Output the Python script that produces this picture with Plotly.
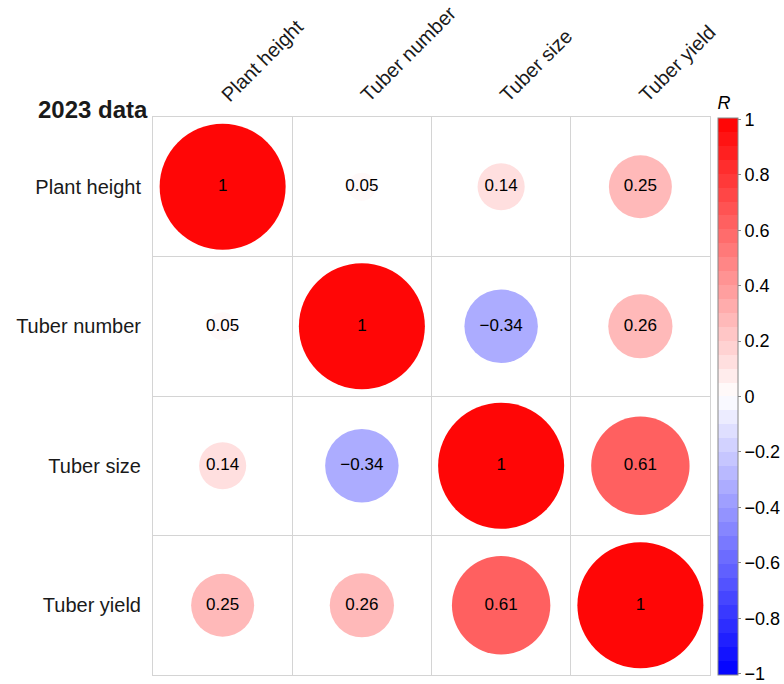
import numpy as np
import plotly.graph_objects as go

# Traits and their pairwise Pearson correlations (2023 season)
traits = ["Plant height", "Tuber number", "Tuber size", "Tuber yield"]
corr = [
    [1.00, 0.05, 0.14, 0.25],
    [0.05, 1.00, -0.34, 0.26],
    [0.14, -0.34, 1.00, 0.61],
    [0.25, 0.26, 0.61, 1.00],
]
cbar_ticks = [1, 0.8, 0.6, 0.4, 0.2, 0, -0.2, -0.4, -0.6, -0.8, -1]
panel_title = "2023 data"

FONT = "Liberation Sans, Arial, sans-serif"
GRID = "#d4d4d4"
MAX_DIAM = 126  # circle diameter (px) for |r| = 1
N_STEPS = 40    # discrete colour bands across [-1, 1]
PLOT_H = 684 - 117 - 9


def minus(s):
    return s.replace("-", "\u2212")


def fmt_cell(v):
    return "1" if v == 1 else minus("%.2f" % v)


def band_colour(v):
    # blue -> white -> red
    if v >= 0:
        c = int(round(255 * (1 - v)))
        return f"rgb(255,{c},{c})"
    c = int(round(255 * (1 + v)))
    return f"rgb({c},{c},255)"


# stepped colour scale
edges = np.linspace(0, 1, N_STEPS + 1)
colorscale = []
for i in range(N_STEPS):
    centre = -1 + 2 * (edges[i] + edges[i + 1]) / 2
    col = band_colour(centre)
    colorscale.append([edges[i], col])
    colorscale.append([edges[i + 1], col])

n = len(traits)
xs, ys, vals, sizes, texts = [], [], [], [], []
for i in range(n):
    for j in range(n):
        v = corr[i][j]
        xs.append(j + 1)
        ys.append(i + 1)
        vals.append(v)
        sizes.append(MAX_DIAM * np.sqrt(abs(v)))
        texts.append(fmt_cell(v))

# keep the end ticks just inside the bar so both are drawn
tick_pos = [t * 0.995 for t in cbar_ticks]
tick_txt = [minus("%g" % t) for t in cbar_ticks]

fig = go.Figure()
fig.add_trace(go.Scatter(
    x=xs, y=ys, mode="markers+text",
    text=texts, textposition="middle center",
    textfont=dict(family=FONT, size=17, color="black"),
    marker=dict(
        size=sizes, sizemode="diameter", opacity=1,
        color=vals, cmin=-1, cmax=1, colorscale=colorscale,
        line=dict(width=0),
        colorbar=dict(
            x=(718 - 153) / 557, xanchor="left", xpad=0,
            y=0, yanchor="bottom", len=PLOT_H + 24, lenmode="pixels", ypad=0,
            thickness=20, thicknessmode="pixels",
            outlinewidth=1, outlinecolor="#888888",
            tickmode="array", tickvals=tick_pos, ticktext=tick_txt,
            ticks="outside", ticklen=3, tickcolor="#888888",
            tickfont=dict(family=FONT, size=18, color="black"),
            title=dict(text="<i>R</i>", side="top",
                       font=dict(family=FONT, size=18, color="black")),
        ),
    ),
    hoverinfo="skip", showlegend=False,
))

boundaries = [k + 0.5 for k in range(n + 1)]
axis_common = dict(
    range=[0.5, n + 0.5], showgrid=False, zeroline=False,
    showline=True, linecolor=GRID, linewidth=1, mirror=True,
    tickmode="array", tickvals=list(range(1, n + 1)), ticktext=traits,
    ticks="", tickfont=dict(family=FONT, size=20, color="#1a1a1a"),
    minor=dict(tickmode="array", tickvals=boundaries, showgrid=True,
               gridcolor=GRID, gridwidth=1, ticks=""),
    fixedrange=True, automargin=False,
)

fig.update_layout(
    width=784, height=684,
    margin=dict(l=153, r=74, t=117, b=9, pad=0, autoexpand=False),
    paper_bgcolor="white", plot_bgcolor="white",
    xaxis=dict(axis_common, side="top", tickangle=-45, ticklabelstandoff=2),
    yaxis=dict(axis_common, range=[n + 0.5, 0.5], ticklabelstandoff=7),
    annotations=[dict(
        text=f"<b>{panel_title}</b>", xref="paper", yref="paper",
        x=0, y=1, xanchor="right", yanchor="bottom", xshift=-3, yshift=-8,
        showarrow=False, font=dict(family=FONT, size=24, color="#1a1a1a"),
    )],
)

fig.write_html("out.html")
